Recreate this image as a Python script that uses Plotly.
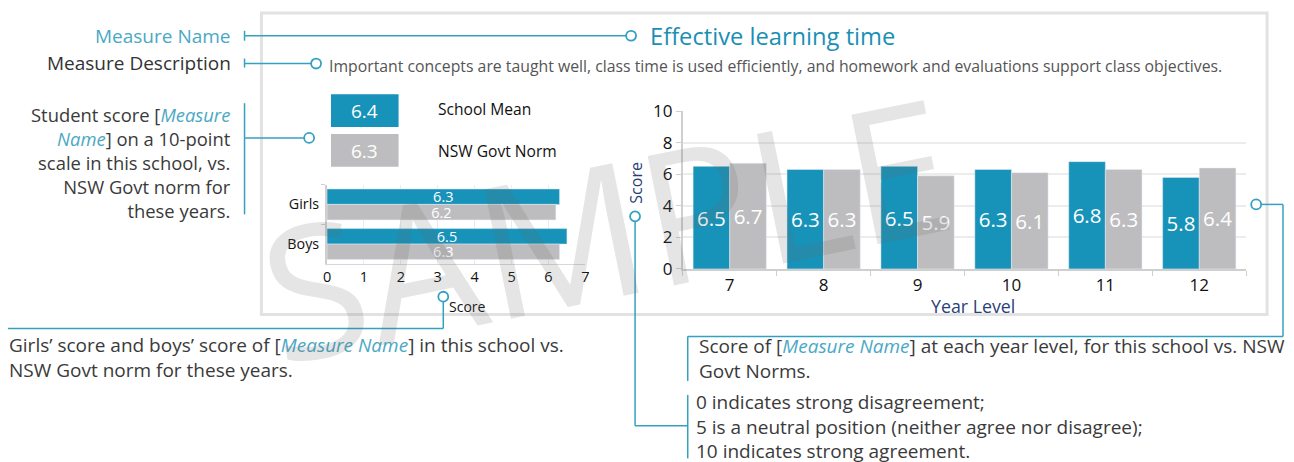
import plotly.graph_objects as go

# picture is 1294x462; page puts the figure at (8, 20) and the photo squashes y by ~0.957
W, H = 1294, 462
X0, Y0, SY = 8, 20, 0.957
FW, FH = 1278, 456
FONT = "Open Sans"

# ---- data ----
years = ["7", "8", "9", "10", "11", "12"]
school_by_year = [6.5, 6.3, 6.5, 6.3, 6.8, 5.8]
norm_by_year = [6.7, 6.3, 5.9, 6.1, 6.3, 6.4]
genders = ["Girls", "Boys"]
school_by_gender = [6.3, 6.5]
norm_by_gender = [6.2, 6.3]
school_mean = 6.4
norm_mean = 6.3
series_names = ["School Mean", "NSW Govt Norm"]

TEAL = "#1793b9"
GREY = "#bdbdbf"
LINE = "#35a1c1"
NAVY = "#2a3f78"
TXT = "#3a3a3a"


def px(x):
    return (x - X0) / FW


def py(y):
    return 1 - (y / SY - Y0) / FH


fig = go.Figure()

# horizontal gender chart
for vals, col, nm in [(school_by_gender, TEAL, series_names[0]), (norm_by_gender, GREY, series_names[1])]:
    fig.add_trace(go.Bar(y=genders, x=vals, orientation="h", name=nm, marker_color=col,
                         text=[f"{v:.1f}" for v in vals], textposition="inside",
                         insidetextanchor="middle", constraintext="none",
                         textfont=dict(color="white", size=14.5, family=FONT),
                         xaxis="x", yaxis="y", showlegend=False))

# vertical year chart
for vals, col, nm in [(school_by_year, TEAL, series_names[0]), (norm_by_year, GREY, series_names[1])]:
    fig.add_trace(go.Bar(x=years, y=vals, name=nm, marker_color=col,
                         text=[f"{v:.1f}" for v in vals], textposition="inside",
                         insidetextanchor="middle", constraintext="none", textangle=0,
                         textfont=dict(color="white", size=20.5, family=FONT),
                         xaxis="x2", yaxis="y2", showlegend=False))

shapes = []
annotations = []


def line(x0, y0, x1, y1, color=LINE, width=1.5):
    shapes.append(dict(type="line", xref="paper", yref="paper", x0=px(x0), y0=py(y0),
                       x1=px(x1), y1=py(y1), line=dict(color=color, width=width)))


def circle(cx, cy, r=5):
    shapes.append(dict(type="circle", xref="paper", yref="paper", x0=px(cx - r), x1=px(cx + r),
                       y0=py(cy + r), y1=py(cy - r), fillcolor="white",
                       line=dict(color=LINE, width=1.8)))


def text(x, y, s, size=19, color=TXT, xanchor="left", align="left", **kw):
    annotations.append(dict(x=px(x), y=py(y), xref="paper", yref="paper", text=s,
                            showarrow=False, xanchor=xanchor, yanchor="middle", align=align,
                            font=dict(family=FONT, size=size, color=color), **kw))


# frame
shapes.append(dict(type="rect", xref="paper", yref="paper", x0=px(259), x1=px(1271),
                   y0=py(316), y1=py(12), line=dict(color="#e2e2e2", width=3), layer="below"))

# legend boxes
shapes.append(dict(type="rect", xref="paper", yref="paper", x0=px(329), x1=px(397),
                   y0=py(127), y1=py(94), fillcolor=TEAL, line=dict(width=0)))
shapes.append(dict(type="rect", xref="paper", yref="paper", x0=px(329), x1=px(397),
                   y0=py(167), y1=py(134), fillcolor=GREY, line=dict(width=0)))
text(363, 111, f"{school_mean:.1f}", size=19, color="white", xanchor="center")
text(363, 151, f"{norm_mean:.1f}", size=19, color="white", xanchor="center")
text(435, 109, series_names[0], size=15.6, color="#111")
text(435, 151, series_names[1], size=15.6, color="#111")

# title & description
text(648, 35, "Effective learning time", size=23.7, color="#1a8fb5")
text(325, 65, "Important concepts are taught well, class time is used efficiently, and homework "
     "and evaluations support class objectives.", size=15.8, color="#555")

# left labels
IT = "<i><span style='color:#4aa8c4'>{}</span></i>"
text(230, 35, "Measure Name", size=19, color="#4aa8c4", xanchor="right")
text(230, 62, "Measure Description", size=19, color="#333", xanchor="right")
line(242, 30, 242, 40)
line(242, 35, 626, 35)
circle(631, 35)
line(242, 58, 242, 67)
line(242, 63, 309, 63)
circle(314, 63)

text(230, 162.5, "Student score [" + IT.format("Measure") + "<br>" + IT.format("Name") +
     "] on a 10-point<br>scale in this school, vs.<br>NSW Govt norm for<br>these years.",
     size=18.4, xanchor="right", align="right")
line(242, 103, 242, 215)
line(242, 138, 302, 138)
circle(307, 138)

# gender chart label & connector
text(446, 308, "Score", size=14, color="#111")
circle(442, 298)
line(442, 303, 442, 330)
line(442, 330, 0, 330)
text(3, 359, "Girls’ score and boys’ score of [" + IT.format("Measure Name") +
     "] in this school vs.<br>NSW Govt norm for these years.", size=19)

# year chart labels
text(975, 307, "Year Level", size=17.8, color=NAVY, xanchor="center")
text(636, 183, "Score", size=16, color=NAVY, xanchor="center", textangle=-90)
circle(635, 217)
line(635, 222, 635, 428)
line(635, 428, 688, 428)
line(688, 397, 688, 461)
text(694, 429, "0 indicates strong disagreement;<br>5 is a neutral position (neither agree "
     "nor disagree);<br>10 indicates strong agreement.", size=19)

circle(1260, 205)
line(1265, 205, 1287, 205)
line(1287, 205, 1287, 338)
line(1287, 338, 688, 338)
line(688, 338, 688, 383)
text(697, 360, "Score of [" + IT.format("Measure Name") +
     "] at each year level, for this school vs. NSW<br>Govt Norms.", size=19)

# watermark
annotations.append(dict(x=px(605), y=py(227), xref="paper", yref="paper", text="SAMPLE",
                        showarrow=False, textangle=-11.5,
                        font=dict(family=FONT, size=185, color="rgba(100,100,100,0.17)")))

fig.update_layout(
    width=FW, height=FH, margin=dict(l=0, r=0, t=0, b=0),
    paper_bgcolor="white", plot_bgcolor="rgba(0,0,0,0)",
    barmode="group", bargap=0.22, bargroupgap=0,
    shapes=shapes, annotations=annotations,
    font=dict(family=FONT, color="#111"),
    xaxis=dict(domain=[px(325), px(585)], range=[0, 7], dtick=1, anchor="y",
               showgrid=True, gridcolor="#ececec", gridwidth=1, zeroline=False,
               showline=True, linecolor="#d8d8d8", ticks="", tickfont=dict(size=14.5, color="#111"),
               fixedrange=True),
    yaxis=dict(domain=[py(265), py(185)], autorange="reversed", anchor="x",
               showline=True, linecolor="#cfcfcf", linewidth=2, ticks="outside", tickson="boundaries",
               ticklen=4, tickcolor="#cfcfcf", tickfont=dict(size=14.3, color="#111"),
               showgrid=False, ticklabelstandoff=3),
    xaxis2=dict(domain=[px(683), px(1250)], anchor="y2", showline=True, linecolor="#cfcfcf",
                linewidth=2, ticks="outside", tickson="boundaries", ticklen=5, tickcolor="#cfcfcf",
                tickfont=dict(size=17, color="#111"), showgrid=False),
    yaxis2=dict(domain=[py(270), py(111)], range=[0, 10], dtick=2, anchor="x2",
                showline=True, linecolor="#cfcfcf", linewidth=2, ticks="outside", ticklen=5,
                tickcolor="#cfcfcf", showgrid=True, gridcolor="#ececec", gridwidth=2,
                zeroline=False, tickfont=dict(size=17, color="#111")),
)

fig.write_html("out.html")
